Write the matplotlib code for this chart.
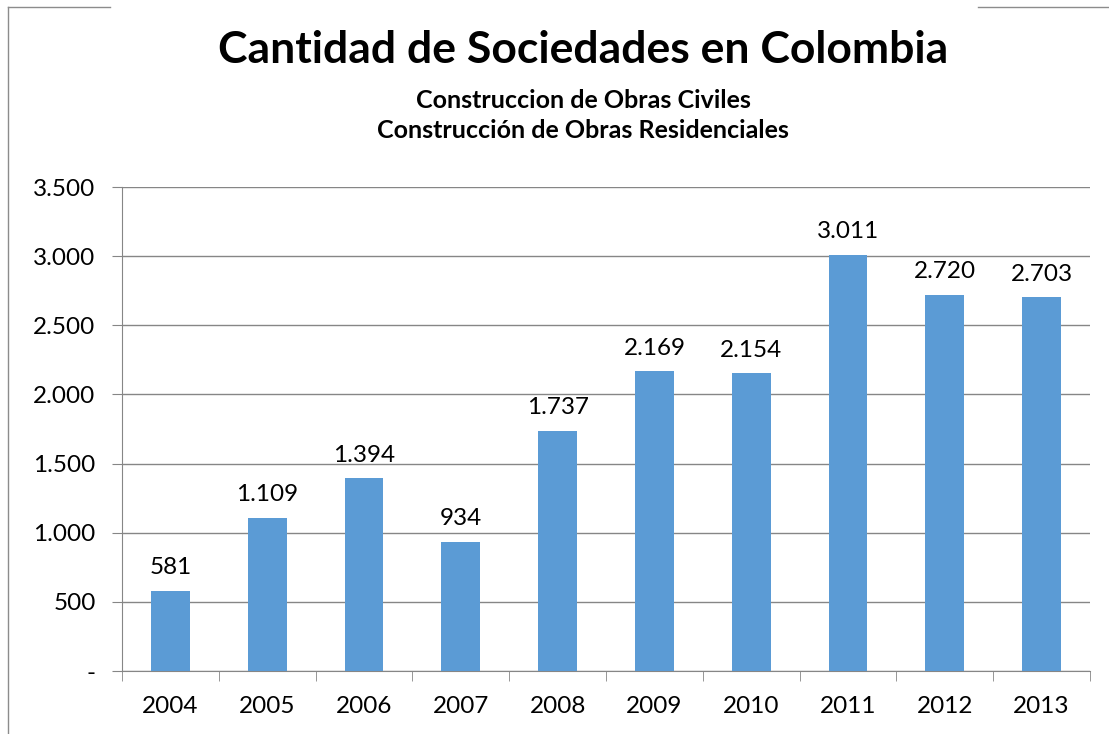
import matplotlib
matplotlib.use("Agg")
import matplotlib.pyplot as plt
from matplotlib.lines import Line2D

years = ["2004", "2005", "2006", "2007", "2008", "2009", "2010", "2011", "2012", "2013"]
values = [581, 1109, 1394, 934, 1737, 2169, 2154, 3011, 2720, 2703]
yticks = [0, 500, 1000, 1500, 2000, 2500, 3000, 3500]
ytick_labels = ["-", "500", "1.000", "1.500", "2.000", "2.500", "3.000", "3.500"]
title = "Cantidad de Sociedades en Colombia"
subtitle1 = "Construccion de Obras Civiles"
subtitle2 = "Construcción de Obras Residenciales"

def fmt(v):
    return f"{v:,}".replace(",", ".")

plt.rcParams['font.family'] = ['Lato', 'DejaVu Sans']
W, H = 1109, 734
fig = plt.figure(figsize=(W / 100, H / 100), dpi=100)
ax = fig.add_axes([122 / W, 1 - 671 / H, (1090 - 122) / W, (671 - 187) / H])

x = list(range(len(years)))
ax.bar(x, values, width=0.4, color="#5B9BD5", zorder=3)
for xi, v in zip(x, values):
    ax.annotate(fmt(v), (xi, v), xytext=(0, 9), textcoords="offset points",
                ha="center", va="bottom", fontsize=17.5, color="black")

ax.set_xlim(-0.5, len(years) - 0.5)
ax.set_ylim(0, 3500)
ax.set_yticks(yticks)
ax.set_yticklabels(ytick_labels, fontsize=17.5)
ax.set_xticks(x)
ax.set_xticklabels(years, fontsize=17.5)
ax.tick_params(axis="x", length=0, pad=18)
ax.set_xticks([i - 0.5 for i in range(len(years) + 1)], minor=True)
ax.tick_params(axis="x", which="minor", length=7, color="#868686", direction="out")
ax.tick_params(axis="y", length=7, color="#868686", pad=12)
ax.grid(axis="y", color="#868686", linewidth=1, zorder=0)
for s in ["top", "right"]:
    ax.spines[s].set_visible(False)
ax.spines["left"].set_color("#868686")
ax.spines["bottom"].set_color("#868686")

fig.text(583 / W, 1 - 50 / H, title, ha="center", va="center", fontsize=32, fontweight="bold")
fig.text(583 / W, 1 - 100 / H, subtitle1, ha="center", va="center", fontsize=18, fontweight="bold")
fig.text(583 / W, 1 - 131 / H, subtitle2, ha="center", va="center", fontsize=18, fontweight="bold")

border = "#8c8c8c"
fig.add_artist(Line2D([8 / W, 8 / W], [1 - 7 / H, 0], transform=fig.transFigure, color=border, lw=1))
fig.add_artist(Line2D([8 / W, 110 / W], [1 - 7 / H, 1 - 7 / H], transform=fig.transFigure, color=border, lw=1))
fig.add_artist(Line2D([978 / W, 1], [1 - 7 / H, 1 - 7 / H], transform=fig.transFigure, color=border, lw=1))

fig.savefig("out.png", dpi=100)
